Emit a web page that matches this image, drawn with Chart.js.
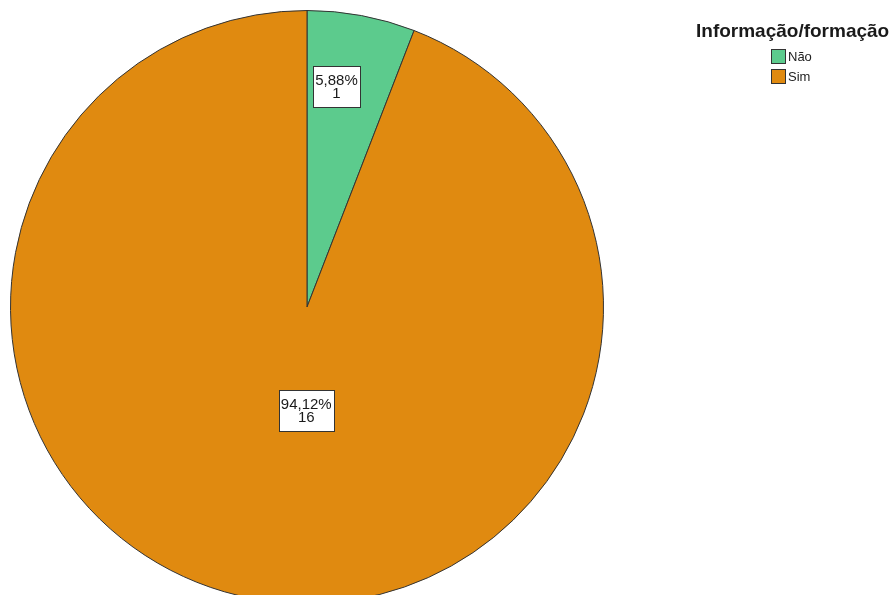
<!DOCTYPE html>
<html>
<head>
<meta charset="utf-8">
<script src="https://cdn.jsdelivr.net/npm/chart.js@4/dist/chart.umd.min.js"></script>
<style>
  html, body { margin: 0; padding: 0; background: #fff; overflow: hidden; }
  #wrap { width: 895px; height: 614px; }
</style>
</head>
<body>
<div id="wrap"><canvas id="c" width="895" height="614"></canvas></div>
<script>
// Responses to "Informação/formação"
const legendTitle = 'Informação/formação';
const categories = ['Não', 'Sim'];
const counts = [1, 16];
const percentLabels = ['5,88%', '94,12%'];
const colors = ['#5ccb8d', '#e08a10'];
// where each value box sits inside its slice: fraction along the slice's sweep, fraction of the radius
const labelPlacement = [
  { sweep: 0.36, radius: 0.75 },
  { sweep: 0.47, radius: 0.35 }
];

const FONT = '"Liberation Sans", Arial, sans-serif';

// value boxes ("percent" over "count") drawn on each slice
const sliceLabels = {
  id: 'sliceLabels',
  afterDatasetsDraw(chart) {
    const ctx = chart.ctx;
    const meta = chart.getDatasetMeta(0);
    meta.data.forEach((arc, i) => {
      const p = arc.getProps(['x', 'y', 'startAngle', 'endAngle', 'outerRadius'], true);
      const a = p.startAngle + (p.endAngle - p.startAngle) * labelPlacement[i].sweep;
      const r = p.outerRadius * labelPlacement[i].radius;
      const cx = p.x + Math.cos(a) * r;
      const cy = p.y + Math.sin(a) * r;
      const lines = [percentLabels[i], String(counts[i])];
      ctx.save();
      ctx.font = '15px ' + FONT;
      const w = Math.round(Math.max(...lines.map(t => ctx.measureText(t).width)) + 4);
      const lh = 13;
      const h = 41;
      ctx.fillStyle = '#ffffff';
      ctx.strokeStyle = '#333333';
      ctx.lineWidth = 1;
      const bx = Math.round(cx - w / 2) + 0.5, by = Math.round(cy - h / 2) + 0.5;
      ctx.fillRect(bx, by, w, h);
      ctx.strokeRect(bx, by, w, h);
      ctx.fillStyle = '#1a1a1a';
      ctx.textAlign = 'center';
      ctx.textBaseline = 'middle';
      ctx.fillText(lines[0], cx, cy - lh / 2 + 1);
      ctx.fillText(lines[1], cx, cy + lh / 2 + 1);
      ctx.restore();
    });
  }
};

// legend block at the top right: bold title, then swatch + category rows
const sideLegend = {
  id: 'sideLegend',
  afterDraw(chart) {
    const ctx = chart.ctx;
    ctx.save();
    ctx.font = 'bold 19px ' + FONT;
    ctx.fillStyle = '#1a1a1a';
    ctx.textAlign = 'left';
    ctx.textBaseline = 'alphabetic';
    ctx.fillText(legendTitle, 696, 37);
    ctx.font = '13px ' + FONT;
    categories.forEach((c, i) => {
      const y = 49 + i * 20;
      ctx.fillStyle = colors[i];
      ctx.fillRect(771.5, y + 0.5, 14, 14);
      ctx.strokeStyle = '#333333';
      ctx.lineWidth = 1;
      ctx.strokeRect(771.5, y + 0.5, 14, 14);
      ctx.fillStyle = '#222222';
      ctx.textBaseline = 'middle';
      ctx.fillText(c, 788, y + 8);
    });
    ctx.restore();
  }
};

new Chart(document.getElementById('c'), {
  type: 'pie',
  data: {
    labels: categories,
    datasets: [{
      data: counts,
      backgroundColor: colors,
      borderColor: '#333333',
      borderWidth: 1
    }]
  },
  options: {
    responsive: false,
    animation: false,
    layout: { padding: { left: 10, top: 10, right: 291, bottom: 10 } },
    plugins: {
      legend: { display: false },
      tooltip: { enabled: false }
    }
  },
  plugins: [sliceLabels, sideLegend]
});
</script>
</body>
</html>
